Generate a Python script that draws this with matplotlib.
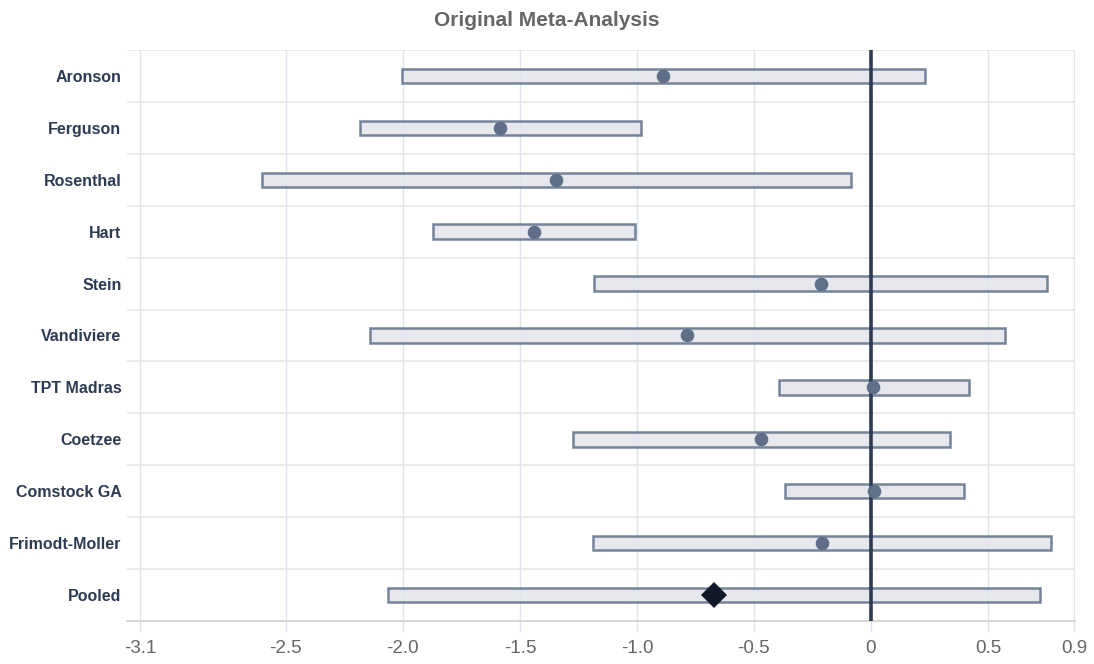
import numpy as np
import matplotlib
matplotlib.use("Agg")
import matplotlib.pyplot as plt

plt.rcParams["font.family"] = ["Liberation Sans", "DejaVu Sans"]

# Forest plot values (log scale effect sizes)
studies = ["Aronson", "Ferguson", "Rosenthal", "Hart", "Stein", "Vandiviere",
           "TPT Madras", "Coetzee", "Comstock GA", "Frimodt-Moller", "Pooled"]
estimate = [-0.889, -1.585, -1.346, -1.440, -0.215, -0.785,
            0.010, -0.470, 0.013, -0.209, -0.670]
lower = [-2.003, -2.184, -2.601, -1.870, -1.182, -2.141,
         -0.392, -1.275, -0.369, -1.189, -2.063]
upper = [0.231, -0.984, -0.087, -1.010, 0.754, 0.573,
         0.417, 0.338, 0.397, 0.769, 0.724]

# x ticks: range edges are labelled with rounded values
tick_vals = [-3.124, -2.5, -2.0, -1.5, -1.0, -0.5, 0.0, 0.5, 0.868]
tick_text = ["-3.1", "-2.5", "-2.0", "-1.5", "-1.0", "-0.5", "0", "0.5", "0.9"]
x_range = (-3.179, 0.872)

BAR_FILL = "#e2e5ea"
BAR_EDGE = "#5f6f88"
POINT = "#5f6f88"
POOLED = "#111827"
ZERO_LINE = "#2d3b52"
LABEL = "#2d3b52"
GRID_V = "#dfe4ee"
GRID_H = "#e6e6e6"

fig = plt.figure(figsize=(10.94, 6.64), dpi=100)
W, H = 1094, 664
ax = fig.add_axes([127 / W, (H - 621) / H, (1075 - 127) / W, (621 - 50) / H])

n = len(studies)
ypos = np.arange(n)
lower = np.array(lower)
upper = np.array(upper)
estimate = np.array(estimate)

# category separators
for b in np.arange(-0.5, n - 0.5, 1.0):
    ax.axhline(b, color=GRID_H, lw=1.2, zorder=0.5)
for v in tick_vals:
    ax.axvline(v, color=GRID_V, lw=1.0, zorder=0.6)

ax.barh(ypos, upper - lower, left=lower, height=0.28, color=BAR_FILL, alpha=0.85,
        edgecolor=BAR_EDGE, linewidth=1.8, zorder=2)

ax.axvline(0, color=ZERO_LINE, lw=2.6, zorder=3)

is_pooled = np.array([s == "Pooled" for s in studies])
ax.plot(estimate[~is_pooled], ypos[~is_pooled], "o", color=POINT, markersize=9.8,
        markeredgewidth=0, zorder=4)
ax.plot(estimate[is_pooled], ypos[is_pooled], "D", color=POOLED, markersize=13,
        markeredgewidth=0, zorder=4)

ax.set_xlim(*x_range)
ax.set_ylim(n - 0.5, -0.5)
ax.set_xticks(tick_vals)
ax.set_xticklabels(tick_text, fontsize=13.5, color="#666666")
ax.tick_params(axis="x", length=8, width=1.0, color=GRID_V, pad=6)
ax.set_yticks(ypos)
ax.set_yticklabels(studies, fontsize=11.5, fontweight="bold", color=LABEL)
ax.tick_params(axis="y", length=0, pad=4)

for side in ["top", "right", "left"]:
    ax.spines[side].set_visible(False)
ax.spines["bottom"].set_color("#d0d0d0")
ax.spines["bottom"].set_linewidth(1.2)

fig.suptitle("Original Meta-Analysis", x=0.5, y=1 - 21 / H, va="center",
             fontsize=15, fontweight="bold", color="#666666")

fig.savefig("out.png", dpi=100)
